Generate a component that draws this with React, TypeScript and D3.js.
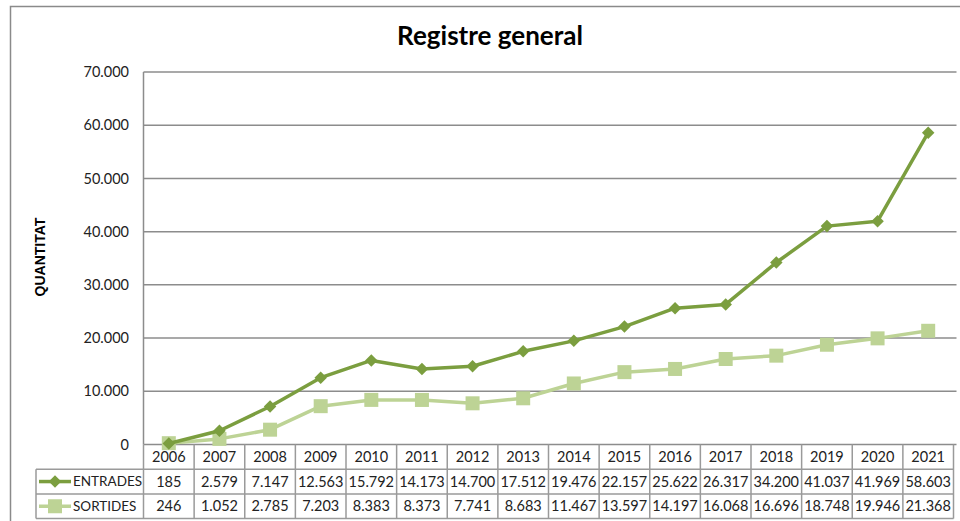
import { useEffect, useRef } from 'react';
import * as d3 from 'd3';

const years = ['2006', '2007', '2008', '2009', '2010', '2011', '2012', '2013', '2014', '2015', '2016', '2017', '2018', '2019', '2020', '2021'];
const entrades = [185, 2579, 7147, 12563, 15792, 14173, 14700, 17512, 19476, 22157, 25622, 26317, 34200, 41037, 41969, 58603];
const sortides = [246, 1052, 2785, 7203, 8383, 8373, 7741, 8683, 11467, 13597, 14197, 16068, 16696, 18748, 19946, 21368];
const yTicks = [0, 10000, 20000, 30000, 40000, 50000, 60000, 70000];

const series = [
  { name: 'ENTRADES', values: entrades, color: '#7b9e3f', marker: 'diamond' },
  { name: 'SORTIDES', values: sortides, color: '#bdd395', marker: 'square' },
];

const fmt = (v: number) => d3.format(',')(v).replace(/,/g, '.');

export default function App() {
  const svgRef = useRef<SVGSVGElement>(null);

  useEffect(() => {
    if (!svgRef.current) return;
    const width = 960;
    const height = 521;
    const plot = { left: 143.5, right: 953.5, top: 72, bottom: 444.5 };
    const rowH = 24.7;
    const legendLeft = 36;
    const font = 'Lato, Calibri, sans-serif';
    const fontSize = 14.5;
    const gridColor = '#8c8c8c';

    const svg = d3.select(svgRef.current);
    svg.selectAll('*').remove();
    svg.attr('width', width).attr('height', height);

    // outer chart border (cut off on the right and bottom)
    svg.append('rect')
      .attr('x', 10.5).attr('y', 6.5)
      .attr('width', 1000).attr('height', 600)
      .attr('fill', 'white')
      .attr('stroke', '#8a8a8a').attr('stroke-width', 1.5);

    const x = d3.scaleBand<string>()
      .domain(years)
      .range([plot.left, plot.right]);

    const y = d3.scaleLinear()
      .domain([0, 70000])
      .range([plot.bottom, plot.top]);

    // Gridlines
    svg.append('g')
      .selectAll('line')
      .data(yTicks)
      .join('line')
      .attr('x1', plot.left)
      .attr('x2', plot.right + 3)
      .attr('y1', d => y(d))
      .attr('y2', d => y(d))
      .attr('stroke', gridColor)
      .attr('stroke-width', 1.5);

    // Y axis line
    svg.append('line')
      .attr('x1', plot.left).attr('x2', plot.left)
      .attr('y1', plot.top).attr('y2', plot.bottom)
      .attr('stroke', gridColor).attr('stroke-width', 1.5);

    // Y tick labels
    svg.append('g')
      .selectAll('text')
      .data(yTicks)
      .join('text')
      .attr('x', 129)
      .attr('y', d => y(d))
      .attr('dy', '0.35em')
      .attr('text-anchor', 'end')
      .attr('font-family', font)
      .attr('font-size', fontSize)
      .attr('fill', '#222')
      .text(d => fmt(d));

    // Y axis title
    svg.append('text')
      .attr('transform', `translate(45,257) rotate(-90)`)
      .attr('text-anchor', 'middle')
      .attr('font-family', 'Liberation Sans, Arial, sans-serif')
      .attr('font-weight', 'bold')
      .attr('font-size', 14)
      .text('QUANTITAT');

    // Title
    svg.append('text')
      .attr('x', 490).attr('y', 45)
      .attr('text-anchor', 'middle')
      .attr('font-family', font)
      .attr('font-weight', 'bold')
      .attr('font-size', 26)
      .text('Registre general');

    const cx = (i: number) => (x(years[i]) as number) + x.bandwidth() / 2;

    const line = d3.line<number>()
      .x((d, i) => cx(i))
      .y(d => y(d));

    const drawMarker = (g: any, kind: string, px: number, py: number, color: string) => {
      if (kind === 'diamond') {
        g.append('path')
          .attr('d', d3.symbol().type(d3.symbolDiamond2).size(100)())
          .attr('transform', `translate(${px},${py})`)
          .attr('fill', color);
      } else {
        g.append('rect')
          .attr('x', px - 7).attr('y', py - 7)
          .attr('width', 14).attr('height', 14)
          .attr('fill', color);
      }
    };

    // Lines and markers (draw SORTIDES first so ENTRADES sits on top)
    [...series].reverse().forEach(s => {
      const g = svg.append('g');
      g.append('path')
        .datum(s.values)
        .attr('fill', 'none')
        .attr('stroke', s.color)
        .attr('stroke-width', 3.5)
        .attr('stroke-linejoin', 'round')
        .attr('d', line);
      s.values.forEach((v, i) => drawMarker(g, s.marker, cx(i), y(v), s.color));
    });

    // Data table
    const table = svg.append('g');
    const tableBottom = plot.bottom + rowH * 3;
    const tableColor = '#9a9a9a';

    // horizontal lines
    [1, 2, 3].forEach(k => {
      table.append('line')
        .attr('x1', legendLeft).attr('x2', plot.right)
        .attr('y1', plot.bottom + rowH * k).attr('y2', plot.bottom + rowH * k)
        .attr('stroke', tableColor).attr('stroke-width', 1.5);
    });

    // vertical lines
    const bounds = years.map(yr => x(yr) as number).concat([plot.right]);
    table.selectAll('line.v')
      .data(bounds)
      .join('line')
      .attr('class', 'v')
      .attr('x1', d => d).attr('x2', d => d)
      .attr('y1', plot.bottom).attr('y2', tableBottom)
      .attr('stroke', tableColor).attr('stroke-width', 1.5);
    table.append('line')
      .attr('x1', legendLeft).attr('x2', legendLeft)
      .attr('y1', plot.bottom + rowH).attr('y2', tableBottom)
      .attr('stroke', tableColor).attr('stroke-width', 1.5);

    // year header
    table.selectAll('text.yr')
      .data(years)
      .join('text')
      .attr('class', 'yr')
      .attr('x', (d, i) => cx(i))
      .attr('y', plot.bottom + rowH / 2)
      .attr('dy', '0.35em')
      .attr('text-anchor', 'middle')
      .attr('font-family', font)
      .attr('font-size', fontSize)
      .attr('fill', '#222')
      .text(d => d);

    series.forEach((s, r) => {
      const rowY = plot.bottom + rowH * (r + 1) + rowH / 2;
      table.append('line')
        .attr('x1', 39).attr('x2', 71)
        .attr('y1', rowY).attr('y2', rowY)
        .attr('stroke', s.color).attr('stroke-width', 3.5);
      drawMarker(table, s.marker, 55, rowY, s.color);
      table.append('text')
        .attr('x', 73).attr('y', rowY)
        .attr('dy', '0.35em')
        .attr('font-family', font)
        .attr('font-size', 13.5)
        .attr('fill', '#222')
        .text(s.name);
      table.selectAll(`text.v${r}`)
        .data(s.values)
        .join('text')
        .attr('class', `v${r}`)
        .attr('x', (d, i) => cx(i))
        .attr('y', rowY)
        .attr('dy', '0.35em')
        .attr('text-anchor', 'middle')
        .attr('font-family', font)
        .attr('font-size', fontSize)
        .attr('fill', '#222')
        .text(d => fmt(d));
    });
  }, []);

  return (
    <svg ref={svgRef} style={{ position: 'absolute', left: 0, top: 0 }}></svg>
  );
}
